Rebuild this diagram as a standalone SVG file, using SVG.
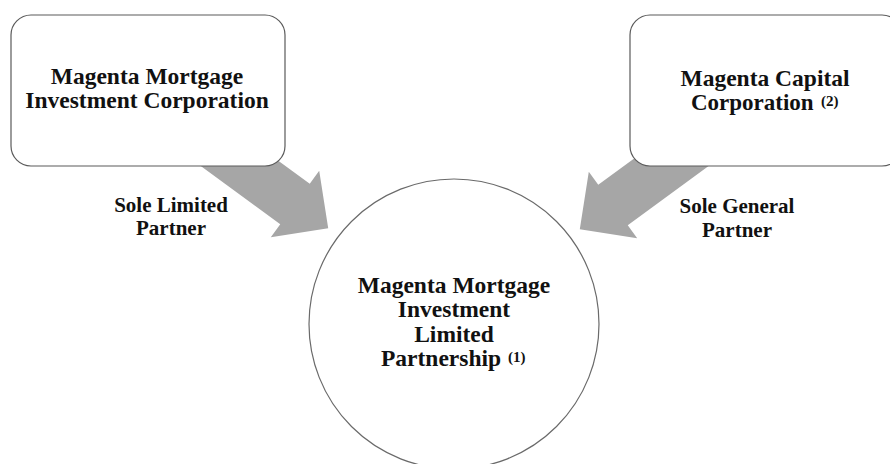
<svg xmlns="http://www.w3.org/2000/svg" width="890" height="464" viewBox="0 0 890 464">
<style>
.box{fill:#fff;stroke:#5a5a5a;stroke-width:1.2}
.circ{fill:#fff;stroke:#6a6a6a;stroke-width:1.2}
.arrow{fill:#a6a6a6}
text{font-family:"Liberation Serif","Times New Roman",serif;font-weight:bold;fill:#111;text-anchor:middle}
.n{font-size:23.5px}
.l{font-size:21px}
.s{text-anchor:start}
.sup{font-size:15px;text-anchor:start}
</style>
<rect width="890" height="464" fill="#fff"/>
<g id="connectors">
<polygon class="arrow" points="213,113 309.75,183.75 319.2,170.8 328.2,228.2 270.8,237.2 280.25,224.25 183,153"/>
<polygon class="arrow" transform="translate(908,1) scale(-1,1)" points="213,113 309.75,183.75 319.2,170.8 328.2,228.2 270.8,237.2 280.25,224.25 183,153"/>
</g>
<g id="node-mmic">
<rect class="box" x="11" y="15" width="274" height="151" rx="20"/>
<text class="n" x="147" y="84">Magenta Mortgage</text>
<text class="n" x="147" y="108">Investment Corporation</text>
</g>
<g id="node-mcc">
<rect class="box" x="630" y="15" width="272" height="151" rx="20"/>
<text class="n" x="765" y="86">Magenta Capital</text>
<text class="n s" x="691" y="110" style="font-size:23px">Corporation</text>
<text class="sup" x="821" y="106">(2)</text>
</g>
<g id="node-mmilp">
<circle class="circ" cx="454" cy="324" r="145"/>
<text class="n" x="454" y="293">Magenta Mortgage</text>
<text class="n" x="454" y="317">Investment</text>
<text class="n" x="454" y="342">Limited</text>
<text class="n s" x="381" y="366">Partnership</text>
<text class="sup" x="508" y="362">(1)</text>
</g>
<g id="labels">
<text class="l" x="171" y="212">Sole Limited</text>
<text class="l" x="171" y="235">Partner</text>
<text class="l" x="737" y="213">Sole General</text>
<text class="l" x="737" y="237">Partner</text>
</g>
</svg>
